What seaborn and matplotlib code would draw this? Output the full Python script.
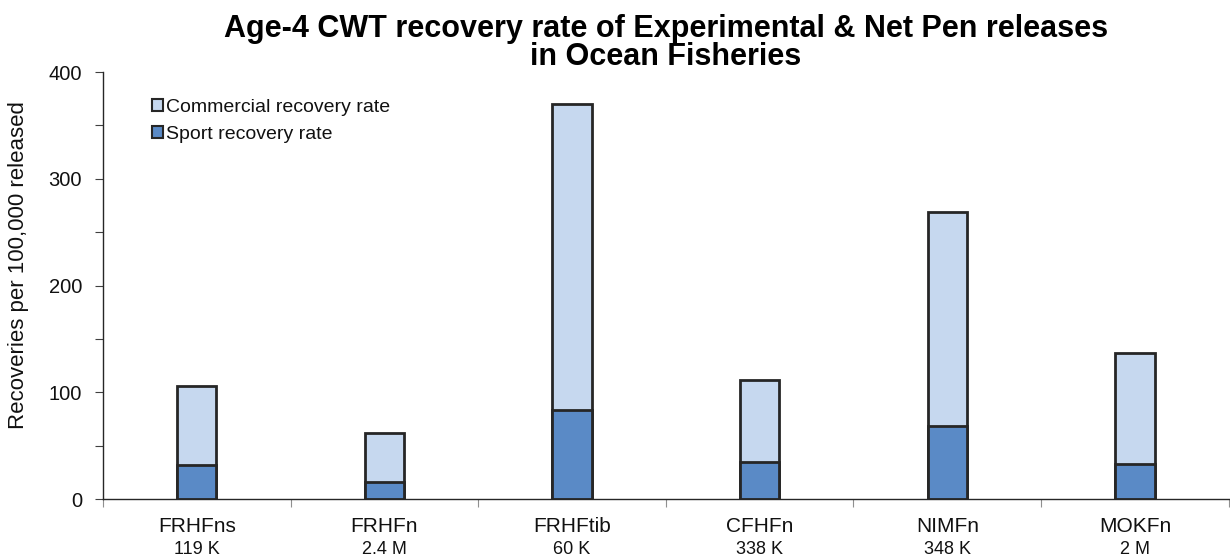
import matplotlib
matplotlib.use("Agg")
import matplotlib.pyplot as plt
from matplotlib.patches import Patch
from matplotlib.ticker import MultipleLocator
import numpy as np
import pandas as pd
import seaborn as sns

# Release groups, release sizes and age-4 recovery rates (per 100,000 released)
groups = ["FRHFns", "FRHFn", "FRHFtib", "CFHFn", "NIMFn", "MOKFn"]
released = ["119 K", "2.4 M", "60 K", "338 K", "348 K", "2 M"]
sport_rate = [32, 16, 84, 35, 69, 33]
commercial_rate = [74, 46, 286, 77, 200, 104]

sns.set_theme(style="white")
plt.rcParams["font.family"] = ["Liberation Sans", "DejaVu Sans"]

df = pd.DataFrame({
    "group": groups,
    "sport": sport_rate,
    "commercial": commercial_rate,
})
df["total"] = df["sport"] + df["commercial"]

light = "#C6D8EF"
dark = "#5A8AC6"
edge = "#262626"

fig = plt.figure(figsize=(12.3, 5.59), dpi=100)
ax = fig.add_axes([0.0837, 0.107, 0.9153, 0.764])

# Stacked bars: total (commercial on top) drawn first, sport portion over it
sns.barplot(data=df, x="group", y="total", color=light, width=0.21,
            edgecolor=edge, linewidth=2, ax=ax, saturation=1)
sns.barplot(data=df, x="group", y="sport", color=dark, width=0.21,
            edgecolor=edge, linewidth=2, ax=ax, saturation=1)

ax.set_xlim(-0.5, len(groups) - 0.5)
ax.set_ylim(0, 400)
ax.yaxis.set_major_locator(MultipleLocator(100))
ax.yaxis.set_minor_locator(MultipleLocator(50))
ax.tick_params(axis="y", which="both", direction="out", left=True,
               length=6, width=0.8, color="#404040", labelsize=14.5, pad=9,
               labelcolor="#111111")

# Category boundaries carry the x ticks; names sit below as text
ax.set_xticks(np.arange(-0.5, len(groups), 1.0))
ax.set_xticklabels([])
ax.tick_params(axis="x", which="both", direction="out", bottom=True,
               length=6, width=0.8, color="#909090")
name_trans = ax.get_xaxis_transform()
for i, (g, r) in enumerate(zip(groups, released)):
    ax.text(i, -0.041, g, ha="center", va="top", fontsize=15,
            transform=name_trans, color="#111111")
    ax.text(i, -0.097, r, ha="center", va="top", fontsize=13,
            transform=name_trans, color="#111111")

for side in ["top", "right"]:
    ax.spines[side].set_visible(False)
for side in ["left", "bottom"]:
    ax.spines[side].set_color("#262626")
    ax.spines[side].set_linewidth(1.0)

ax.set_xlabel("")
ax.set_ylabel("Recoveries per 100,000 released", fontsize=16,
              color="#111111")
ax.yaxis.set_label_coords(-0.066, 0.548)

ax.set_title("Age-4 CWT recovery rate of Experimental & Net Pen releases\nin Ocean Fisheries",
             fontsize=22, fontweight="bold", linespacing=0.9, pad=3,
             color="#000000")

handles = [Patch(facecolor=light, edgecolor=edge, linewidth=1.5, label="Commercial recovery rate"),
           Patch(facecolor=dark, edgecolor=edge, linewidth=1.5, label="Sport recovery rate")]
ax.legend(handles=handles, loc="upper left", bbox_to_anchor=(0.037, 0.955),
          frameon=False, fontsize=14, handlelength=0.55, handleheight=0.55,
          handletextpad=0.15, labelspacing=0.5, borderaxespad=0,
          labelcolor="#111111")

fig.savefig("out.png", dpi=100)
